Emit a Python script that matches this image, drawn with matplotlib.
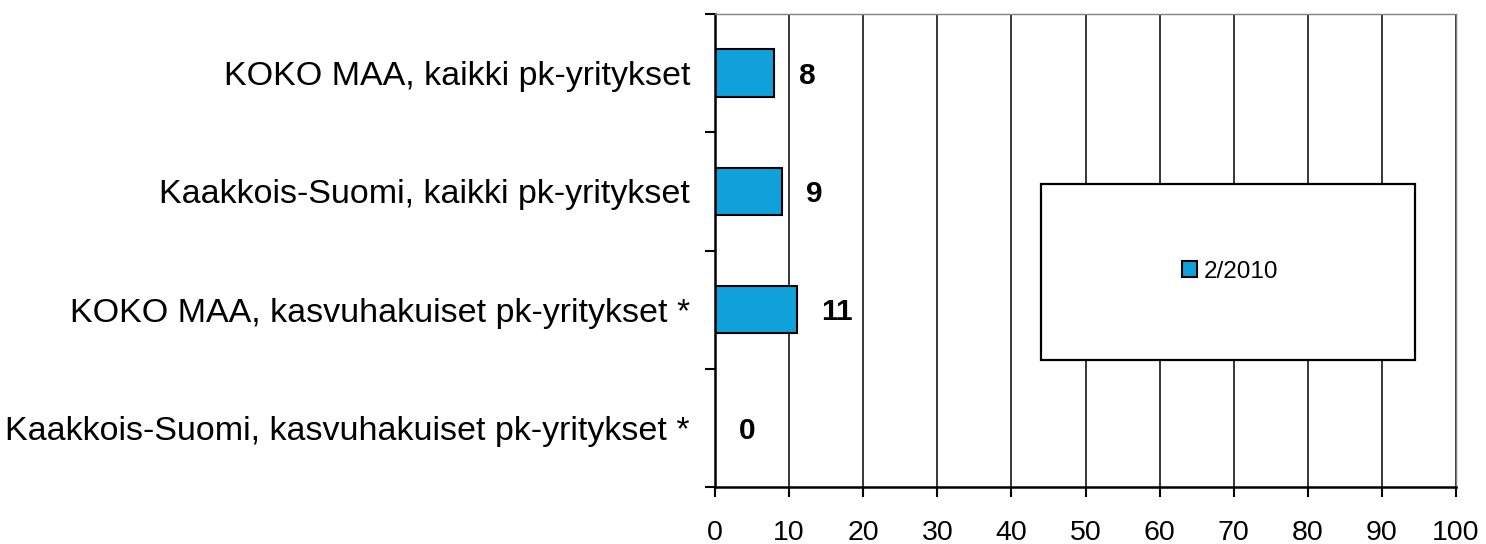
import matplotlib
matplotlib.use("Agg")
import matplotlib.pyplot as plt
from matplotlib.patches import Rectangle

# ── Data ─────────────────────────────────────────
categories = [
    "KOKO MAA, kaikki pk-yritykset",
    "Kaakkois-Suomi, kaikki pk-yritykset",
    "KOKO MAA, kasvuhakuiset pk-yritykset *",
    "Kaakkois-Suomi, kasvuhakuiset pk-yritykset *",
]
values = [8, 9, 11, 0]
series_label = "2/2010"
xticks = list(range(0, 101, 10))

plt.rcParams['font.family'] = ['Liberation Sans', 'DejaVu Sans']

fig = plt.figure(figsize=(14.86, 5.44), dpi=100)
ax = fig.add_axes([715 / 1486, 1 - 487 / 544, 741 / 1486, 473 / 544])

pos = list(range(len(categories)))
ax.barh(pos, values, height=0.4, color="#10a0da", edgecolor="black",
        linewidth=1.5, zorder=2, label=series_label)

# value labels, 24 px right of the bar end
for y, v in zip(pos, values):
    ax.annotate(f"{v}", xy=(v, y), xytext=(17.5, -2), textcoords="offset points",
                ha="left", va="center", fontsize=21.5, fontweight="bold")

ax.set_xlim(0, 100)
ax.set_ylim(len(categories) - 0.5, -0.5)
ax.set_xticks(xticks)
ax.set_xticklabels([str(t) for t in xticks])
ax.tick_params(axis="x", length=7, width=1.5, pad=17, labelsize=20.5,
               direction="out")

# y ticks at the category boundaries, labels at the centres
ax.set_yticks([p - 0.5 for p in pos] + [pos[-1] + 0.5])
ax.set_yticklabels([])
ax.set_yticks(pos, minor=True)
ax.set_yticklabels(categories, minor=True)
ax.tick_params(axis="y", which="major", length=7, width=1.5, direction="out")
ax.tick_params(axis="y", which="minor", length=0, pad=18, labelsize=24.5)

ax.grid(True, axis="x", color="black", linewidth=1.1)
ax.set_axisbelow(True)

for side in ("left", "bottom"):
    ax.spines[side].set_linewidth(1.8)
    ax.spines[side].set_color("black")
for side in ("top", "right"):
    ax.spines[side].set_linewidth(1.0)
    ax.spines[side].set_color("#808080")

# legend box
ax.add_patch(Rectangle((0.44, 0.2685), 0.505, 0.372, transform=ax.transAxes,
                       facecolor="white", edgecolor="black", linewidth=1.6,
                       zorder=3))
leg = ax.legend(loc="center", bbox_to_anchor=(0.695, 0.455), frameon=False,
                fontsize=17.5, handlelength=0.62, handleheight=0.62,
                handletextpad=0.25)
leg.set_zorder(4)

fig.savefig("out.png", dpi=100)
plt.close(fig)
